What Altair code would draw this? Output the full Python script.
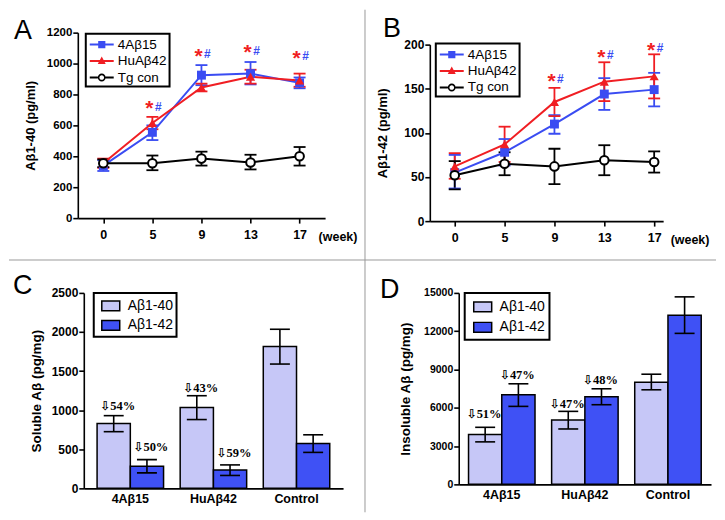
import altair as alt
import pandas as pd

# ---------------- data ----------------
PANEL_LETTERS = ["A", "B", "C", "D"]
WEEKS = ["0", "5", "9", "13", "17"]
SERIES = ["4Aβ15", "HuAβ42", "Tg con"]

# Panel A : Aβ1-40 (pg/ml)
A_4A_MEAN = [340, 555, 925, 935, 875]
A_4A_LO = [305, 505, 860, 865, 840]
A_4A_HI = [375, 600, 990, 1010, 910]
A_HU_MEAN = [355, 615, 845, 915, 890]
A_HU_LO = [325, 575, 820, 870, 850]
A_HU_HI = [385, 655, 870, 960, 935]
A_TG_MEAN = [355, 355, 385, 360, 400]
A_TG_LO = [330, 310, 340, 315, 340]
A_TG_HI = [380, 405, 430, 410, 460]
A_STAR_WEEKS = ["5", "9", "13", "17"]
A_STAR_Y = [737, 1077, 1098, 1060]
A_HASH_Y = [722, 1062, 1083, 1049]

# Panel B : Aβ1-42 (pg/ml)
B_4A_MEAN = [55, 78, 110, 144, 149]
B_4A_LO = [37, 63, 99, 126, 130]
B_4A_HI = [75, 93, 120, 162, 168]
B_HU_MEAN = [62, 87, 135, 158, 164]
B_HU_LO = [48, 67, 119, 136, 139]
B_HU_HI = [77, 107, 151, 180, 189]
B_TG_MEAN = [52, 65, 62, 69, 67]
B_TG_LO = [36, 52, 42, 52, 55]
B_TG_HI = [68, 78, 82, 86, 79]
B_STAR_WEEKS = ["9", "13", "17"]
B_STAR_Y = [163, 190, 198]
B_HASH_Y = [161, 188, 196]

# Panels C, D : bars
GROUPS = ["4Aβ15", "HuAβ42", "Control"]
MEASURES = ["Aβ1-40", "Aβ1-42"]

C_40_MEAN = [830, 1035, 1815]
C_40_LO = [725, 880, 1590]
C_40_HI = [930, 1185, 2035]
C_42_MEAN = [282, 235, 575]
C_42_LO = [198, 165, 460]
C_42_HI = [367, 300, 685]
C_ANN_GROUP = ["4Aβ15", "4Aβ15", "HuAβ42", "HuAβ42"]
C_ANN_MEAS = ["Aβ1-40", "Aβ1-42", "Aβ1-40", "Aβ1-42"]
C_ANN_TEXT = ["54%", "50%", "43%", "59%"]
C_ANN_Y = [1059, 523, 1288, 446]

D_40_MEAN = [3900, 5050, 8000]
D_40_LO = [3330, 4340, 7410]
D_40_HI = [4470, 5720, 8630]
D_42_MEAN = [7020, 6860, 13250]
D_42_LO = [6110, 6240, 11830]
D_42_HI = [7880, 7490, 14690]
D_ANN_GROUP = ["4Aβ15", "4Aβ15", "HuAβ42", "HuAβ42"]
D_ANN_MEAS = ["Aβ1-40", "Aβ1-42", "Aβ1-40", "Aβ1-42"]
D_ANN_TEXT = ["51%", "47%", "47%", "48%"]
D_ANN_Y = [5550, 8590, 6330, 8200]
ARROW = "⇩"

# ---------------- styles ----------------
BLUE = "#3a4cf2"
RED = "#f01e23"
BLACK = "#000000"
LIGHT = "#c6c7f7"
DARK = "#3f51f5"
FONT = "Liberation Sans"
SERIF = "Liberation Serif, DejaVu Sans"

# legend symbols (fill-only paths; unit = 9 px with symbolSize 324)
LINE_P = "M-0.78,-0.11H1.89V0.11H-0.78Z"
SQ_P = LINE_P + " M0.16,-0.4H0.96V0.4H0.16Z"
TRI_P = LINE_P + " M0.556,-0.5L1.0,0.34H0.11Z"
CIR_P = ("M-0.78,-0.11H0.12V0.11H-0.78Z M0.99,-0.11H1.89V0.11H0.99Z "
         "M0.996,0A0.44,0.44 0 1,1 0.116,0A0.44,0.44 0 1,1 0.996,0Z "
         "M0.816,0A0.26,0.26 0 1,0 0.296,0A0.26,0.26 0 1,0 0.816,0Z")
BARSYM = "M-0.55,-0.55H1.45V0.55H-0.55Z"


def letter_layer(letter, lx, ly):
    return alt.Chart(pd.DataFrame({"t": [letter]})).mark_text(
        fontSize=27, font=FONT, color="black", align="left", baseline="alphabetic").encode(
        text="t:N", x=alt.value(lx), y=alt.value(ly))


def line_df(means, los, his):
    rows = []
    for s, m, lo, hi in zip(SERIES, means, los, his):
        for w, a, b, c in zip(WEEKS, m, lo, hi):
            rows.append({"week": w, "series": s, "mean": a, "lo": b, "hi": c})
    return pd.DataFrame(rows)


def line_legend(leg_x, leg_y):
    return alt.Legend(title=None, orient="none", legendX=leg_x, legendY=leg_y,
                      strokeColor="black", padding=2,
                      labelFont=FONT, labelFontSize=13.5, labelColor="black",
                      symbolSize=324, symbolStrokeWidth=0, symbolOpacity=1,
                      labelOffset=12, rowPadding=0.5, cornerRadius=0)


def line_panel(df, star_weeks, star_y, hash_y, ydomain, yvalues, ytitle,
               letter, lx, ly, width, height, yrange, xpad, xalign,
               lab_size, leg_x, leg_y, sep=None):
    xenc = alt.X("week:O", sort=WEEKS,
                 scale=alt.Scale(type="point", padding=xpad, align=xalign),
                 axis=alt.Axis(title="(week)", labelAngle=0, labelFontSize=12.5,
                               labelFontWeight="bold", labelPadding=5,
                               titleX=241, titleY=22, titleAlign="left",
                               titleBaseline="alphabetic",
                               titleFontSize=12.5, titleFontWeight="bold"))
    yscale = alt.Scale(domain=ydomain, range=yrange, nice=False, zero=True)
    yaxis = alt.Axis(title=ytitle, values=yvalues, labelFontSize=lab_size,
                     labelFontWeight="bold", labelPadding=1, titleX=-40,
                     titleFontSize=13, titleFontWeight="bold", format="d")
    # data-driven domain (sorted like SERIES) so it is kept apart from the legend scales
    cenc = alt.Color("series:N", sort=SERIES, scale=alt.Scale(range=[BLUE, RED, BLACK]),
                     legend=None)
    base = alt.Chart(df)

    rules = base.mark_rule(strokeWidth=1.8).encode(
        x=xenc, y=alt.Y("lo:Q", scale=yscale, axis=yaxis), y2="hi:Q", color=cenc)
    caps = base.transform_fold(["lo", "hi"], as_=["k", "v"]).mark_tick(
        size=12, thickness=1.8, orient="horizontal", opacity=1).encode(
        x=xenc, y=alt.Y("v:Q", scale=yscale, axis=yaxis), color=cenc)
    lines = base.mark_line(strokeWidth=2).encode(
        x=xenc, y=alt.Y("mean:Q", scale=yscale, axis=yaxis), color=cenc)
    p_sq = base.transform_filter(alt.datum.series == SERIES[0]).mark_point(
        shape="square", filled=True, color=BLUE, size=80, opacity=1).encode(
        x=xenc, y=alt.Y("mean:Q", scale=yscale, axis=yaxis))
    p_tri = base.transform_filter(alt.datum.series == SERIES[1]).mark_point(
        shape="triangle-up", filled=True, color=RED, size=85, opacity=1).encode(
        x=xenc, y=alt.Y("mean:Q", scale=yscale, axis=yaxis))
    p_cir = base.transform_filter(alt.datum.series == SERIES[2]).mark_point(
        shape="circle", filled=True, fill="white", stroke=BLACK, strokeWidth=2,
        size=75, opacity=1).encode(
        x=xenc, y=alt.Y("mean:Q", scale=yscale, axis=yaxis))

    sdf = pd.DataFrame({"week": star_weeks, "sy": star_y, "hy": hash_y})
    stars = alt.Chart(sdf).mark_text(text="*", color=RED, fontSize=21, fontWeight="bold",
                                     font=FONT, dx=-3, dy=5, baseline="middle").encode(
        x=xenc, y=alt.Y("sy:Q", scale=yscale, axis=yaxis))
    hashes = alt.Chart(sdf).mark_text(text="#", color=BLUE, fontSize=12, fontWeight="bold",
                                      font=FONT, dx=6, baseline="middle").encode(
        x=xenc, y=alt.Y("hy:Q", scale=yscale, axis=yaxis))

    # legend-only layer (no marks drawn; legend from its shape + fill scales)
    leg = line_legend(leg_x, leg_y)
    legend = base.transform_filter("false").mark_point(filled=True, opacity=1).encode(
        x=xenc, y=alt.Y("mean:Q", scale=yscale, axis=yaxis),
        shape=alt.Shape("series:N", scale=alt.Scale(domain=SERIES, range=[SQ_P, TRI_P, CIR_P]),
                        legend=leg),
        fill=alt.Fill("series:N", scale=alt.Scale(domain=SERIES, range=[BLUE, RED, BLACK]),
                      legend=leg))
    layers = [rules, caps, lines, p_sq, p_tri, p_cir, stars, hashes, legend,
              letter_layer(letter, lx, ly)]
    if sep is not None:
        layers.extend(sep)
    return alt.layer(*layers).properties(width=width, height=height)


def bar_df(m40, l40, h40, m42, l42, h42):
    rows = []
    for meas, m, l, h in [(MEASURES[0], m40, l40, h40), (MEASURES[1], m42, l42, h42)]:
        for g, a, b, c in zip(GROUPS, m, l, h):
            rows.append({"group": g, "measure": meas, "mean": a, "lo": b, "hi": c})
    return pd.DataFrame(rows)


def bar_panel(df, ann, ydomain, yvalues, ytitle, letter, lx, ly, width, height,
              xrange, pad_outer, yaxis_offset, lab_size, leg_x, leg_y, title_x, ann_dx,
              leg_pad, leg_row):
    xscale = alt.Scale(domain=GROUPS, paddingInner=0.2, paddingOuter=pad_outer, range=xrange)
    xenc = alt.X("group:N", sort=GROUPS, scale=xscale,
                 axis=alt.Axis(title=None, labelAngle=0, ticks=False, labelPadding=4,
                               labelFontSize=12.5, labelFontWeight="bold"))
    xo = alt.XOffset("measure:N", sort=MEASURES, scale=alt.Scale(domain=MEASURES, paddingInner=0))
    yscale = alt.Scale(domain=ydomain, nice=False)
    yaxis = alt.Axis(title=ytitle, values=yvalues, labelFontSize=lab_size, labelFontWeight="bold",
                     labelPadding=1, titleX=title_x, titleFontSize=13.5, titleFontWeight="bold",
                     offset=yaxis_offset, format="d")
    base = alt.Chart(df)
    bars = base.mark_bar(stroke="black", strokeWidth=1.5).encode(
        x=xenc, xOffset=xo, y=alt.Y("mean:Q", scale=yscale, axis=yaxis),
        fill=alt.Fill("measure:N", scale=alt.Scale(domain=MEASURES, range=[LIGHT, DARK]),
                      legend=alt.Legend(title=None, orient="none", legendX=leg_x, legendY=leg_y,
                                        strokeColor="black", padding=leg_pad,
                                        labelFont=FONT, labelFontSize=14, labelColor="black",
                                        symbolType=BARSYM, symbolSize=324,
                                        symbolStrokeColor="black", symbolStrokeWidth=1.5,
                                        labelOffset=11, rowPadding=leg_row, cornerRadius=0)))
    rules = base.mark_rule(strokeWidth=1.6, color="black").encode(
        x=xenc, xOffset=xo, y=alt.Y("lo:Q", scale=yscale, axis=yaxis), y2="hi:Q")
    caps = base.transform_fold(["lo", "hi"], as_=["k", "v"]).mark_tick(
        size=20, thickness=1.6, color="black", orient="horizontal", opacity=1).encode(
        x=xenc, xOffset=xo, y=alt.Y("v:Q", scale=yscale, axis=yaxis))
    texts = alt.Chart(ann).mark_text(font=SERIF, fontWeight="bold", fontSize=12.5,
                                     color="black", align="left", dx=ann_dx,
                                     baseline="middle").encode(
        x=xenc, xOffset=xo, y=alt.Y("ay:Q", scale=yscale, axis=yaxis), text="label:N")
    return alt.layer(bars, rules, caps, texts,
                     letter_layer(letter, lx, ly)).properties(width=width, height=height)


# separators (figure dividers), drawn from panel A
hsep = alt.Chart(pd.DataFrame({"v": [0]})).mark_rule(color="#9a9a9a", strokeWidth=1).encode(
    x=alt.value(-69), x2=alt.value(640), y=alt.value(228))
vsep = alt.Chart(pd.DataFrame({"v": [0]})).mark_rule(color="#9a9a9a", strokeWidth=1).encode(
    x=alt.value(288), y=alt.value(-23), y2=alt.value(481))

dfA = line_df([A_4A_MEAN, A_HU_MEAN, A_TG_MEAN], [A_4A_LO, A_HU_LO, A_TG_LO],
              [A_4A_HI, A_HU_HI, A_TG_HI])
dfB = line_df([B_4A_MEAN, B_HU_MEAN, B_TG_MEAN], [B_4A_LO, B_HU_LO, B_TG_LO],
              [B_4A_HI, B_HU_HI, B_TG_HI])

panelA = line_panel(dfA, A_STAR_WEEKS, A_STAR_Y, A_HASH_Y, [0, 1200],
                    [0, 200, 400, 600, 800, 1000, 1200], "Aβ1-40 (pg/ml)",
                    PANEL_LETTERS[0], -64, 6,
                    248, 186, [186, 0], 0.52, 0.5, 11.5, 8, 1, sep=[hsep, vsep])
panelB = line_panel(dfB, B_STAR_WEEKS, B_STAR_Y, B_HASH_Y, [0, 200],
                    [0, 50, 100, 150, 200], "Aβ1-42 (pg/ml)",
                    PANEL_LETTERS[1], -47, 4,
                    234, 189, [189, 12], 0.34, 0.735, 12, 6, 11)

dfC = bar_df(C_40_MEAN, C_40_LO, C_40_HI, C_42_MEAN, C_42_LO, C_42_HI)
annC = pd.DataFrame({"group": C_ANN_GROUP, "measure": C_ANN_MEAS,
                     "label": [ARROW + t for t in C_ANN_TEXT], "ay": C_ANN_Y})
dfD = bar_df(D_40_MEAN, D_40_LO, D_40_HI, D_42_MEAN, D_42_LO, D_42_HI)
annD = pd.DataFrame({"group": D_ANN_GROUP, "measure": D_ANN_MEAS,
                     "label": [ARROW + t for t in D_ANN_TEXT], "ay": D_ANN_Y})

panelC = bar_panel(dfC, annC, [0, 2500], [0, 500, 1000, 1500, 2000, 2500], "Soluble Aβ (pg/mg)",
                   PANEL_LETTERS[2], -65, 1, 266, 196, [6, 266], 0.16, -6, 12, 16, 0, -40, -14,
                   3, 1.5)
panelD = bar_panel(dfD, annD, [0, 15000], [0, 3000, 6000, 9000, 12000, 15000],
                   "Insoluble Aβ (pg/mg)", PANEL_LETTERS[3], -50, 5, 282, 192, [29, 282], 0.118,
                   -29, 10.5, 35, 0, -46, -19, 4, 2.5)

chart = alt.concat(panelA, panelB, panelC, panelD, columns=2,
                   spacing={"row": 72, "column": 87}, bounds="flush", align="each",
                   padding=0).resolve_scale(
    x="independent", y="independent", color="independent", fill="independent",
    shape="independent", xOffset="independent"
).configure_view(stroke=None).configure_axis(
    domainColor="black", domainWidth=1.6, tickColor="black", tickWidth=1.6, tickSize=5,
    labelColor="black", titleColor="black", labelFont=FONT, titleFont=FONT, grid=False
).configure_legend(strokeWidth=2)

chart.save("out.html", embed_options={"renderer": "svg", "actions": False})
